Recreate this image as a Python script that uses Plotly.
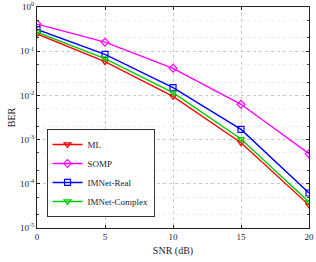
import plotly.graph_objects as go

snr = [0, 5, 10, 15, 20]
ber_ml = [0.245, 0.058, 0.0095, 0.00085, 3.3e-5]
ber_somp = [0.41, 0.16, 0.041, 0.0063, 4.8e-4]
ber_real = [0.31, 0.085, 0.015, 0.0017, 6.2e-5]
ber_complex = [0.27, 0.068, 0.0115, 0.00103, 3.9e-5]

series = [
    ("ML", ber_ml, "#ff0000", "triangle-down-open"),
    ("SOMP", ber_somp, "#ff00ff", "diamond-open"),
    ("IMNet-Real", ber_real, "#0000ff", "square-open"),
    ("IMNet-Complex", ber_complex, "#00cc00", "triangle-down-open"),
]

ytickvals = [1e-5, 1e-4, 1e-3, 1e-2, 1e-1, 1]
yticktext = ["10<sup>-5</sup>", "10<sup>-4</sup>", "10<sup>-3</sup>", "10<sup>-2</sup>", "10<sup>-1</sup>", "10<sup>0</sup>"]

fig = go.Figure()
for name, y, c, sym in series:
    fig.add_trace(go.Scatter(x=snr, y=y, name=name, mode="lines+markers",
                             line=dict(color=c, width=1.4),
                             marker=dict(symbol=sym, size=6, color=c, line=dict(width=1.2, color=c))))

font = dict(family="Liberation Serif, Times New Roman, serif", size=10, color="#222")
fig.update_layout(
    width=316, height=262,
    margin=dict(l=37, r=7, t=7, b=34),
    paper_bgcolor="white", plot_bgcolor="white",
    font=font,
    showlegend=True,
    legend=dict(x=0.035, y=0.05, xanchor="left", yanchor="bottom",
                bgcolor="white", bordercolor="#333", borderwidth=1,
                font=dict(family="Liberation Serif, serif", size=9, color="#222"),
                tracegroupgap=0, itemwidth=30),
)
fig.update_xaxes(range=[0, 20], tickvals=[0, 5, 10, 15, 20], automargin=False,
                 showline=True, linecolor="#222", linewidth=1, mirror="allticks",
                 ticks="inside", ticklen=3, tickcolor="#222",
                 showgrid=True, gridcolor="#c8c8c8", griddash="dot", gridwidth=1,
                 zeroline=False,
                 title=dict(text="SNR (dB)", standoff=6, font=dict(size=10)),
                 tickfont=dict(size=9))
fig.update_yaxes(type="log", range=[-5, 0], tickvals=ytickvals, ticktext=yticktext, automargin=False,
                 showline=True, linecolor="#222", linewidth=1, mirror="allticks",
                 ticks="inside", ticklen=3, tickcolor="#222",
                 showgrid=True, gridcolor="#c8c8c8", griddash="dot", gridwidth=1,
                 minor=dict(ticks="inside", ticklen=2, tickcolor="#444",
                            showgrid=True, gridcolor="#ececec", griddash="dot"),
                 zeroline=False,
                 title=dict(text="BER", standoff=2, font=dict(size=10)),
                 tickfont=dict(size=9))
fig.write_html("out.html", config={"displayModeBar": False},
               post_script="document.body.style.margin='0';document.body.style.padding='0';")
